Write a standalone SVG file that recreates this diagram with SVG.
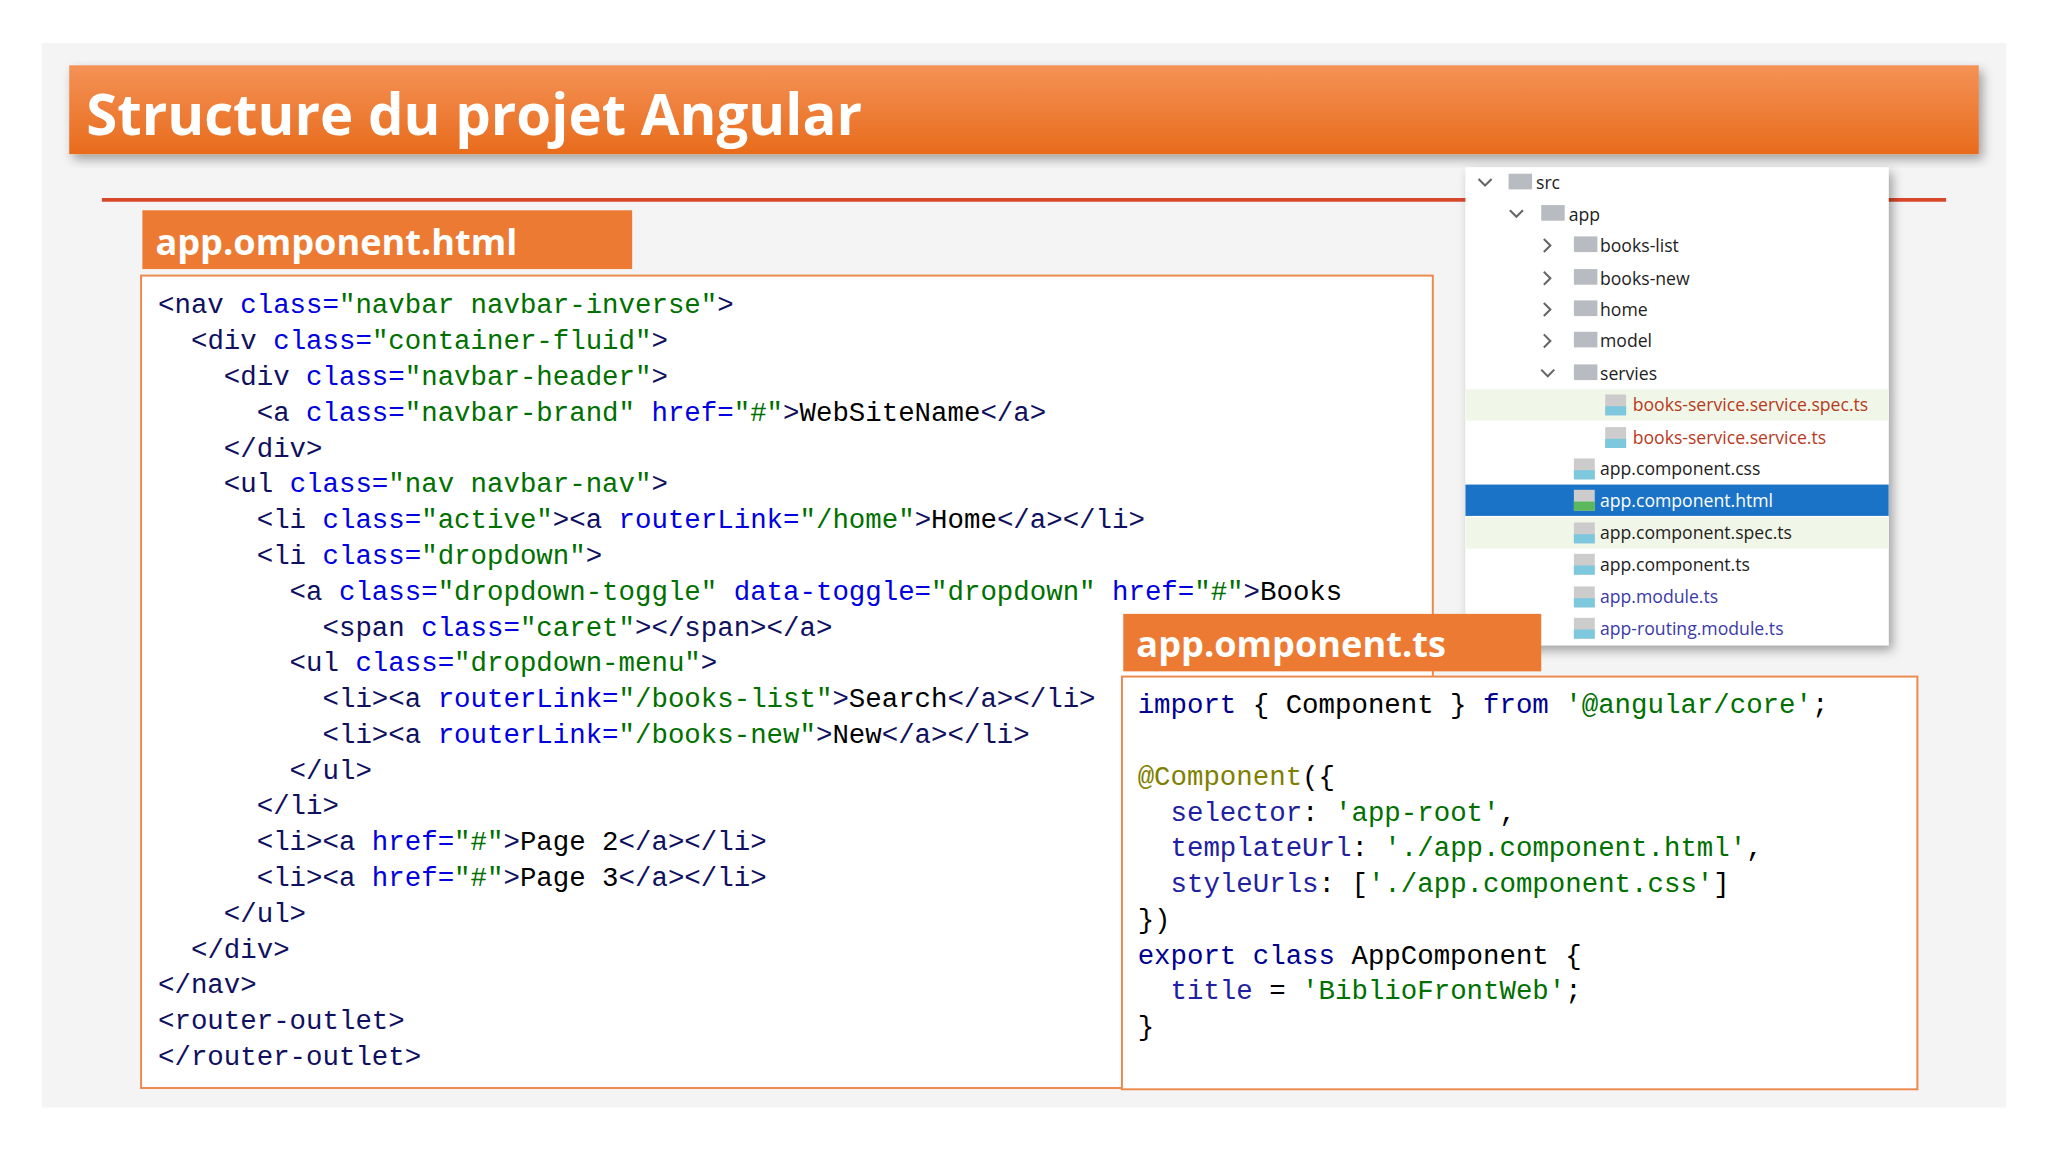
<svg xmlns="http://www.w3.org/2000/svg" width="2048" height="1152" viewBox="0 0 2048 1152">
<defs>
<linearGradient id="tg" x1="0" y1="0" x2="0" y2="1"><stop offset="0" stop-color="#f49256"/><stop offset="1" stop-color="#e86b1c"/></linearGradient>
<filter id="sh" x="-5%" y="-5%" width="115%" height="120%"><feDropShadow dx="3" dy="4" stdDeviation="4" flood-color="#000" flood-opacity="0.35"/></filter>
<style>
.code{font-family:"Liberation Mono","DejaVu Sans Mono",monospace;font-size:21px;fill:#000;white-space:pre}
.t{fill:#101060}.a{fill:#0000e0}.v{fill:#007000}.k{fill:#000090}.o{fill:#808000}.p{fill:#2020a0}
.lbl{font-family:"Open Sans","Liberation Sans",sans-serif;font-weight:bold;fill:#fff}
.tree{font-family:"Open Sans","Liberation Sans",sans-serif;font-size:13.5px;fill:#222}
.box{fill:#fff;stroke:#ec8a4e;stroke-width:1.5}
.chev{fill:none;stroke:#666;stroke-width:1.6}
.fold{fill:#b8bcc2}
</style>
</defs>
<rect width="2048" height="1152" fill="#fff"/>
<g transform="scale(1.30612)">
<rect x="32" y="33" width="1504" height="815" fill="#f4f4f4"/>
<g id="title"><rect x="53" y="50" width="1462" height="68" fill="url(#tg)" filter="url(#sh)"/>
<text x="66" y="103" class="lbl" font-size="44" textLength="594" lengthAdjust="spacingAndGlyphs">Structure du projet Angular</text></g>
<line x1="78" y1="153" x2="1490" y2="153" stroke="#d9472b" stroke-width="3"/>
<g id="html-label"><rect x="109" y="161" width="375" height="45" fill="#ec7a33"/>
<text x="119" y="195" class="lbl" font-size="28" textLength="277" lengthAdjust="spacingAndGlyphs">app.omponent.html</text></g>
<g id="html-code"><rect x="108" y="211" width="989" height="622" class="box"/>
<text class="code" xml:space="preserve">
<tspan x="121" y="240"><tspan class="t">&lt;nav</tspan> <tspan class="a">class=</tspan><tspan class="v">"navbar navbar-inverse"</tspan><tspan class="t">&gt;</tspan></tspan>
<tspan x="121" y="267.4">  <tspan class="t">&lt;div</tspan> <tspan class="a">class=</tspan><tspan class="v">"container-fluid"</tspan><tspan class="t">&gt;</tspan></tspan>
<tspan x="121" y="294.8">    <tspan class="t">&lt;div</tspan> <tspan class="a">class=</tspan><tspan class="v">"navbar-header"</tspan><tspan class="t">&gt;</tspan></tspan>
<tspan x="121" y="322.2">      <tspan class="t">&lt;a</tspan> <tspan class="a">class=</tspan><tspan class="v">"navbar-brand"</tspan> <tspan class="a">href=</tspan><tspan class="v">"#"</tspan><tspan class="t">&gt;</tspan>WebSiteName<tspan class="t">&lt;/a&gt;</tspan></tspan>
<tspan x="121" y="349.6">    <tspan class="t">&lt;/div&gt;</tspan></tspan>
<tspan x="121" y="377">    <tspan class="t">&lt;ul</tspan> <tspan class="a">class=</tspan><tspan class="v">"nav navbar-nav"</tspan><tspan class="t">&gt;</tspan></tspan>
<tspan x="121" y="404.4">      <tspan class="t">&lt;li</tspan> <tspan class="a">class=</tspan><tspan class="v">"active"</tspan><tspan class="t">&gt;&lt;a</tspan> <tspan class="a">routerLink=</tspan><tspan class="v">"/home"</tspan><tspan class="t">&gt;</tspan>Home<tspan class="t">&lt;/a&gt;&lt;/li&gt;</tspan></tspan>
<tspan x="121" y="431.8">      <tspan class="t">&lt;li</tspan> <tspan class="a">class=</tspan><tspan class="v">"dropdown"</tspan><tspan class="t">&gt;</tspan></tspan>
<tspan x="121" y="459.2">        <tspan class="t">&lt;a</tspan> <tspan class="a">class=</tspan><tspan class="v">"dropdown-toggle"</tspan> <tspan class="a">data-toggle=</tspan><tspan class="v">"dropdown"</tspan> <tspan class="a">href=</tspan><tspan class="v">"#"</tspan><tspan class="t">&gt;</tspan>Books</tspan>
<tspan x="121" y="486.6">          <tspan class="t">&lt;span</tspan> <tspan class="a">class=</tspan><tspan class="v">"caret"</tspan><tspan class="t">&gt;&lt;/span&gt;&lt;/a&gt;</tspan></tspan>
<tspan x="121" y="514">        <tspan class="t">&lt;ul</tspan> <tspan class="a">class=</tspan><tspan class="v">"dropdown-menu"</tspan><tspan class="t">&gt;</tspan></tspan>
<tspan x="121" y="541.4">          <tspan class="t">&lt;li&gt;&lt;a</tspan> <tspan class="a">routerLink=</tspan><tspan class="v">"/books-list"</tspan><tspan class="t">&gt;</tspan>Search<tspan class="t">&lt;/a&gt;&lt;/li&gt;</tspan></tspan>
<tspan x="121" y="568.8">          <tspan class="t">&lt;li&gt;&lt;a</tspan> <tspan class="a">routerLink=</tspan><tspan class="v">"/books-new"</tspan><tspan class="t">&gt;</tspan>New<tspan class="t">&lt;/a&gt;&lt;/li&gt;</tspan></tspan>
<tspan x="121" y="596.2">        <tspan class="t">&lt;/ul&gt;</tspan></tspan>
<tspan x="121" y="623.6">      <tspan class="t">&lt;/li&gt;</tspan></tspan>
<tspan x="121" y="651">      <tspan class="t">&lt;li&gt;&lt;a</tspan> <tspan class="a">href=</tspan><tspan class="v">"#"</tspan><tspan class="t">&gt;</tspan>Page 2<tspan class="t">&lt;/a&gt;&lt;/li&gt;</tspan></tspan>
<tspan x="121" y="678.4">      <tspan class="t">&lt;li&gt;&lt;a</tspan> <tspan class="a">href=</tspan><tspan class="v">"#"</tspan><tspan class="t">&gt;</tspan>Page 3<tspan class="t">&lt;/a&gt;&lt;/li&gt;</tspan></tspan>
<tspan x="121" y="705.8">    <tspan class="t">&lt;/ul&gt;</tspan></tspan>
<tspan x="121" y="733.2">  <tspan class="t">&lt;/div&gt;</tspan></tspan>
<tspan x="121" y="760.6"><tspan class="t">&lt;/nav&gt;</tspan></tspan>
<tspan x="121" y="788"><tspan class="t">&lt;router-outlet&gt;</tspan></tspan>
<tspan x="121" y="815.4"><tspan class="t">&lt;/router-outlet&gt;</tspan></tspan>
</text></g>
<g id="tree"><rect x="1122" y="128" width="324" height="366" fill="#fff" filter="url(#sh)"/>
<rect x="1122" y="298" width="324" height="24" fill="#f1f7e8"/>
<rect x="1122" y="396" width="324" height="24" fill="#f1f7e8"/>
<rect x="1122" y="371" width="324" height="24" fill="#1a73c6"/>
<path class="chev" d="M1132 137l5 5 5-5M1156 161l5 5 5-5M1182 183l5 5-5 5M1182 208l5 5-5 5M1182 232l5 5-5 5M1182 256l5 5-5 5M1180 283l5 5 5-5"/>
<g class="fold"><rect x="1155" y="133" width="18" height="12"/><rect x="1180" y="157" width="18" height="12"/><rect x="1205" y="181" width="18" height="12"/><rect x="1205" y="206" width="18" height="12"/><rect x="1205" y="230" width="18" height="12"/><rect x="1205" y="254" width="18" height="12"/><rect x="1205" y="279" width="18" height="12"/></g>
<g font-family="Liberation Sans,sans-serif" font-size="6" font-weight="bold">
<rect x="1229" y="302" width="16" height="16" fill="#ccc"/><rect x="1229" y="311" width="16" height="7" fill="#7ec8de"/>
<rect x="1229" y="327" width="16" height="16" fill="#ccc"/><rect x="1229" y="336" width="16" height="7" fill="#7ec8de"/>
<rect x="1205" y="351" width="16" height="16" fill="#ccc"/><rect x="1205" y="360" width="16" height="7" fill="#7ec8de"/>
<rect x="1205" y="375" width="16" height="16" fill="#ccc"/><rect x="1205" y="384" width="16" height="7" fill="#5cb85c"/>
<rect x="1205" y="400" width="16" height="16" fill="#ccc"/><rect x="1205" y="409" width="16" height="7" fill="#7ec8de"/>
<rect x="1205" y="424" width="16" height="16" fill="#ccc"/><rect x="1205" y="433" width="16" height="7" fill="#7ec8de"/>
<rect x="1205" y="449" width="16" height="16" fill="#ccc"/><rect x="1205" y="458" width="16" height="7" fill="#7ec8de"/>
<rect x="1205" y="473" width="16" height="16" fill="#ccc"/><rect x="1205" y="482" width="16" height="7" fill="#7ec8de"/>
</g>
<g class="tree">
<text x="1176" y="145">src</text><text x="1201" y="169">app</text>
<text x="1225" y="193">books-list</text><text x="1225" y="218">books-new</text><text x="1225" y="242">home</text><text x="1225" y="266">model</text><text x="1225" y="291">servies</text>
<text x="1250" y="315" fill="#b83a1e">books-service.service.spec.ts</text><text x="1250" y="340" fill="#b83a1e">books-service.service.ts</text>
<text x="1225" y="364">app.component.css</text><text x="1225" y="388" fill="#fff">app.component.html</text>
<text x="1225" y="413">app.component.spec.ts</text><text x="1225" y="437">app.component.ts</text>
<text x="1225" y="462" fill="#3a3aa8">app.module.ts</text><text x="1225" y="486" fill="#3a3aa8">app-routing.module.ts</text>
</g></g>
<g id="ts-label"><rect x="860" y="470" width="320" height="44" fill="#ec7a33"/>
<text x="870" y="503" class="lbl" font-size="28" textLength="237" lengthAdjust="spacingAndGlyphs">app.omponent.ts</text></g>
<g id="ts-code"><rect x="859" y="518" width="609" height="316" class="box"/>
<text class="code" xml:space="preserve">
<tspan x="871" y="546"><tspan class="k">import</tspan> { Component } <tspan class="k">from</tspan> <tspan class="v">'@angular/core'</tspan>;</tspan>
<tspan x="871" y="600.8"><tspan class="o">@Component</tspan>({</tspan>
<tspan x="871" y="628.2">  <tspan class="p">selector</tspan>: <tspan class="v">'app-root'</tspan>,</tspan>
<tspan x="871" y="655.6">  <tspan class="p">templateUrl</tspan>: <tspan class="v">'./app.component.html'</tspan>,</tspan>
<tspan x="871" y="683">  <tspan class="p">styleUrls</tspan>: [<tspan class="v">'./app.component.css'</tspan>]</tspan>
<tspan x="871" y="710.4">})</tspan>
<tspan x="871" y="737.8"><tspan class="k">export</tspan> <tspan class="k">class</tspan> AppComponent {</tspan>
<tspan x="871" y="765.2">  <tspan class="p">title</tspan> = <tspan class="v">'BiblioFrontWeb'</tspan>;</tspan>
<tspan x="871" y="792.6">}</tspan>
</text></g>
</g>
</svg>
